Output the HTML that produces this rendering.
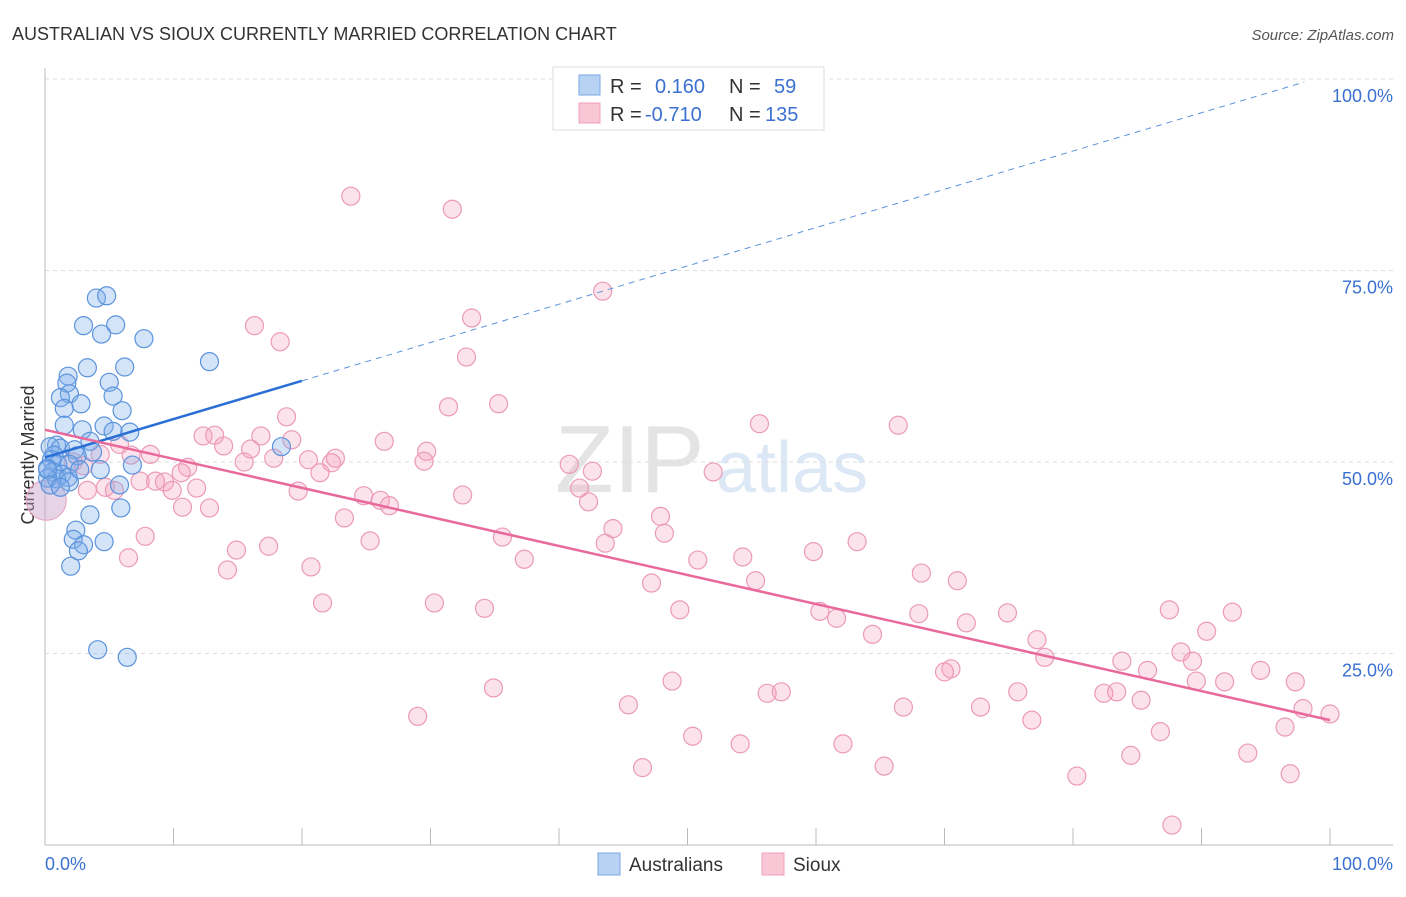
<!DOCTYPE html>
<html><head><meta charset="utf-8"><style>
body{margin:0;background:#fff;font-family:"Liberation Sans",sans-serif;}
svg text{font-family:"Liberation Sans",sans-serif;}
</style></head><body>
<svg id="chart" width="1406" height="892">
<text x="12" y="40" font-size="18" fill="#333">AUSTRALIAN VS SIOUX CURRENTLY MARRIED CORRELATION CHART</text>
<text x="1394" y="40" font-size="15" fill="#555" font-style="italic" text-anchor="end">Source: ZipAtlas.com</text>
<text x="555" y="492" font-size="96" fill="#e4e4e4" font-family="Liberation Serif">ZIP</text>
<text x="716" y="492" font-size="72" fill="#dde8f6">atlas</text>
<text transform="translate(34,455) rotate(-90)" font-size="18" fill="#333" text-anchor="middle">Currently Married</text>
<g id="grid"></g><g id="pts"></g><g id="lines"></g>
<rect x="553" y="67" width="271" height="63" fill="#fff" stroke="#ddd"/>
<rect x="579" y="75" width="21" height="20" fill="#b8d2f4" stroke="#7aa8e4"/>
<rect x="579" y="103" width="21" height="20" fill="#f9c6d6" stroke="#eea0ba"/>
<g font-size="20">
<text x="610" y="93" fill="#333">R =</text><text x="655" y="93" fill="#3a70d0">0.160</text><text x="729" y="93" fill="#333">N =</text><text x="774" y="93" fill="#3a70d0">59</text>
<text x="610" y="121" fill="#333">R =</text><text x="645" y="121" fill="#3a70d0">-0.710</text><text x="729" y="121" fill="#333">N =</text><text x="765" y="121" fill="#3a70d0">135</text>
</g>
<rect x="598" y="853" width="22" height="22" fill="#b8d2f4" stroke="#7aa8e4"/>
<text x="629" y="871" font-size="19" fill="#333">Australians</text>
<rect x="762" y="853" width="22" height="22" fill="#f9c6d6" stroke="#eea0ba"/>
<text x="793" y="871" font-size="19" fill="#333">Sioux</text>
</svg>
<script>
const blueX=[4.0,4.8,3.0,5.5,4.4,7.7,12.8,3.3,6.2,1.8,1.7,5.0,1.9,5.3,1.2,1.5,2.8,6.0,1.5,2.9,4.6,5.3,6.6,3.5,0.9,0.4,1.2,2.3,3.7,2.5,18.4,0.7,0.5,1.0,0.2,1.9,6.8,0.6,1.3,1.8,0.9,0.2,1.9,5.8,5.9,3.5,2.4,2.2,4.6,3.0,2.6,2.0,4.1,6.4,0.2,0.4,1.2,2.7,4.3];
const blueY=[71.4,71.7,67.8,67.9,66.7,66.1,63.1,62.3,62.4,61.2,60.3,60.4,58.9,58.6,58.4,57.0,57.6,56.7,54.8,54.2,54.7,54.0,53.9,52.7,52.2,52.0,51.8,51.6,51.3,50.8,52.0,50.9,50.3,49.7,49.2,49.7,49.6,48.7,48.4,48.0,47.8,47.9,47.4,47.0,44.0,43.1,41.1,39.9,39.6,39.2,38.4,36.4,25.5,24.5,49.0,47.0,46.7,49.0,49.0];
const pinkX=[23.8,31.7,43.4,16.3,18.3,33.2,32.8,31.4,35.3,18.8,55.6,66.4,12.3,13.2,13.9,16.8,19.2,26.4,29.7,29.5,16.0,17.8,20.5,22.6,22.3,21.4,15.5,11.1,10.6,40.8,42.6,52.0,8.2,5.8,6.7,4.3,2.2,3.0,7.4,8.6,9.3,9.9,11.8,3.3,4.7,5.4,19.7,24.8,26.1,26.8,32.5,41.6,42.3,10.7,12.8,23.3,44.2,47.9,35.6,48.2,7.8,6.5,14.9,17.4,25.3,43.6,54.3,63.2,59.8,50.8,37.3,14.2,20.7,68.2,71.0,55.3,47.2,21.6,30.3,34.2,49.4,60.3,61.6,68.0,74.9,71.7,87.5,92.4,64.4,77.2,90.4,77.8,83.8,88.4,89.3,85.8,94.6,70.5,70.0,97.3,91.8,89.6,48.8,34.9,56.2,57.3,75.7,82.4,83.4,85.3,45.4,66.8,72.8,29.0,76.8,97.9,100.0,96.5,50.4,54.1,86.8,62.1,84.5,93.6,46.5,65.3,80.3,96.9,87.7];
const pinkY=[84.7,83.0,72.3,67.8,65.7,68.8,63.7,57.2,57.6,55.9,55.0,54.8,53.4,53.5,52.1,53.4,52.9,52.7,51.4,50.1,51.7,50.5,50.3,50.5,49.9,48.6,50.0,49.3,48.6,49.7,48.8,48.7,51.0,52.3,50.9,51.0,50.0,49.5,47.5,47.5,47.4,46.3,46.6,46.3,46.7,46.3,46.2,45.6,45.0,44.3,45.7,46.6,44.8,44.1,44.0,42.7,41.3,42.9,40.2,40.7,40.3,37.5,38.5,39.0,39.7,39.4,37.6,39.6,38.3,37.2,37.3,35.9,36.3,35.5,34.5,34.5,34.2,31.6,31.6,30.9,30.7,30.5,29.6,30.2,30.3,29.0,30.7,30.4,27.5,26.8,27.9,24.5,24.0,25.2,24.0,22.8,22.8,23.0,22.6,21.3,21.3,21.4,21.4,20.5,19.8,20.0,20.0,19.8,20.0,18.9,18.3,18.0,18.0,16.8,16.3,17.8,17.1,15.4,14.2,13.2,14.8,13.2,11.7,12.0,10.1,10.3,9.0,9.3,2.6];
const trendBlue=[50.6,0.5];   // intercept, slope
const trendPink=[54.2,-0.379];
const yTicks=[25,50,75,100];
const yTickLabels=["25.0%","50.0%","75.0%","100.0%"];
const xTicks=[0,10,20,30,40,50,60,70,80,90,100];

const NS="http://www.w3.org/2000/svg";
const sx=v=>45+v*12.85, sy=v=>845-v*7.66;
function mk(tag,attrs,parent){const e=document.createElementNS(NS,tag);for(const k in attrs)e.setAttribute(k,attrs[k]);parent.appendChild(e);return e;}
const grid=document.getElementById('grid'),pts=document.getElementById('pts'),lines=document.getElementById('lines');
yTicks.forEach((t,i)=>{
  const l=mk('line',{x1:45,x2:1393,y1:sy(t),y2:sy(t),stroke:'#ddd','stroke-dasharray':'4,4'},grid);
  
  
  const tx=mk('text',{x:1393,y:sy(t)+23,'font-size':18,fill:'#3a70d0','text-anchor':'end'},grid);
  tx.textContent=yTickLabels[i];
  
  
});
const ax=mk('line',{x1:45,x2:1393,y1:845,y2:845,stroke:'#bbb'},grid);


const ay=mk('line',{x1:45,x2:45,y1:68,y2:845,stroke:'#bbb'},grid);


xTicks.forEach(t=>{
  const l=mk('line',{x1:sx(t),x2:sx(t),y1:828,y2:845,stroke:'#bbb'},grid);
  
  
});
[["0.0%",45,'start'],["100.0%",1393,'end']].forEach(a=>{
  const tx=mk('text',{x:a[1],y:870,'font-size':18,fill:'#3a70d0','text-anchor':a[2]},grid);
  tx.textContent=a[0];
  
  
});
const big=mk('circle',{cx:sx(0.1),cy:sy(45),r:20,fill:'rgba(200,160,200,0.45)',stroke:'#e8a0c0'},pts);


pinkX.forEach((x,i)=>{
  const c=mk('circle',{cx:sx(x),cy:sy(pinkY[i]),r:9,fill:'rgba(244,160,190,0.3)',stroke:'#eb9ab8','stroke-width':1.2},pts);
  
  
});
blueX.forEach((x,i)=>{
  const c=mk('circle',{cx:sx(x),cy:sy(blueY[i]),r:9,fill:'rgba(130,175,235,0.35)',stroke:'#5b93dc','stroke-width':1.2},pts);
  
  
});
const f=(t,x)=>t[0]+t[1]*x;
const b1=mk('line',{x1:sx(0),y1:sy(f(trendBlue,0)),x2:sx(20),y2:sy(f(trendBlue,20)),stroke:'#2a6fd6','stroke-width':2.5},lines);


const b2=mk('line',{x1:sx(20),y1:sy(f(trendBlue,20)),x2:sx(98),y2:sy(f(trendBlue,98)),stroke:'#5b93dc','stroke-width':1,'stroke-dasharray':'6,5'},lines);


const p1=mk('line',{x1:sx(0),y1:sy(f(trendPink,0)),x2:sx(100),y2:sy(f(trendPink,100)),stroke:'#e8699a','stroke-width':2.5},lines);


</script>
</body></html>
